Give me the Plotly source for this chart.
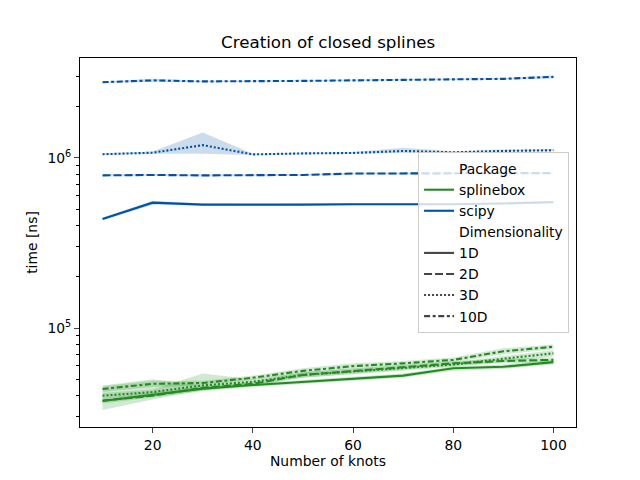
import plotly.graph_objects as go

knots = [10, 20, 30, 40, 50, 60, 70, 80, 90, 100]

# splinebox (mean, lower, upper)
sb_1d = [3.72e4, 4.05e4, 4.4e4, 4.62e4, 4.83e4, 5.06e4, 5.25e4, 5.8e4, 5.92e4, 6.3e4]
sb_1d_lo = [3.6e4, 3.9e4, 4.25e4, 4.5e4, 4.7e4, 4.9e4, 5.1e4, 5.6e4, 5.75e4, 6.1e4]
sb_1d_hi = [3.85e4, 4.2e4, 4.55e4, 4.75e4, 4.97e4, 5.2e4, 5.4e4, 5.95e4, 6.1e4, 6.5e4]
sb_2d = [3.75e4, 4.0e4, 4.45e4, 4.7e4, 5.3e4, 5.6e4, 5.9e4, 6.2e4, 6.4e4, 6.5e4]
sb_2d_lo = [3.3e4, 3.8e4, 4.3e4, 4.55e4, 5.1e4, 5.4e4, 5.7e4, 6.0e4, 6.2e4, 6.3e4]
sb_2d_hi = [4.6e4, 5.0e4, 4.6e4, 4.85e4, 5.5e4, 5.8e4, 6.1e4, 6.4e4, 6.6e4, 6.7e4]
sb_3d = [4.0e4, 4.2e4, 4.6e4, 4.83e4, 5.3e4, 5.55e4, 5.8e4, 6.1e4, 6.6e4, 7.1e4]
sb_3d_lo = [3.85e4, 4.05e4, 4.3e4, 4.65e4, 5.1e4, 5.35e4, 5.6e4, 5.9e4, 6.35e4, 6.8e4]
sb_3d_hi = [4.15e4, 4.35e4, 5.4e4, 5.0e4, 5.5e4, 5.75e4, 6.0e4, 6.3e4, 6.85e4, 7.4e4]
sb_10d = [4.38e4, 4.7e4, 4.75e4, 5.1e4, 5.6e4, 5.97e4, 6.2e4, 6.5e4, 7.3e4, 7.76e4]
sb_10d_lo = [4.2e4, 4.5e4, 4.6e4, 4.95e4, 5.4e4, 5.75e4, 6.0e4, 6.3e4, 7.0e4, 7.5e4]
sb_10d_hi = [4.55e4, 4.9e4, 4.9e4, 5.25e4, 5.8e4, 6.2e4, 6.4e4, 6.7e4, 7.6e4, 8.0e4]

# scipy (mean, lower, upper)
sp_1d = [4.38e5, 5.46e5, 5.32e5, 5.3e5, 5.32e5, 5.35e5, 5.33e5, 5.35e5, 5.4e5, 5.5e5]
sp_1d_lo = [4.3e5, 5.3e5, 5.25e5, 5.24e5, 5.26e5, 5.28e5, 5.27e5, 5.29e5, 5.33e5, 5.43e5]
sp_1d_hi = [4.46e5, 5.6e5, 5.4e5, 5.36e5, 5.38e5, 5.42e5, 5.4e5, 5.42e5, 5.47e5, 5.57e5]
sp_2d = [7.9e5, 7.95e5, 7.9e5, 7.9e5, 7.95e5, 8.1e5, 8.1e5, 8.1e5, 8.1e5, 8.15e5]
sp_2d_lo = [7.8e5, 7.85e5, 7.8e5, 7.8e5, 7.85e5, 8.0e5, 8.0e5, 8.0e5, 8.0e5, 8.05e5]
sp_2d_hi = [8.0e5, 8.05e5, 8.0e5, 8.0e5, 8.05e5, 8.2e5, 8.2e5, 8.2e5, 8.2e5, 8.25e5]
sp_3d = [1.052e6, 1.074e6, 1.19e6, 1.05e6, 1.064e6, 1.07e6, 1.1e6, 1.08e6, 1.1e6, 1.11e6]
sp_3d_lo = [1.04e6, 1.06e6, 1.06e6, 1.04e6, 1.05e6, 1.06e6, 1.07e6, 1.07e6, 1.09e6, 1.1e6]
sp_3d_hi = [1.065e6, 1.09e6, 1.41e6, 1.06e6, 1.078e6, 1.085e6, 1.15e6, 1.095e6, 1.12e6, 1.13e6]
sp_10d = [2.79e6, 2.86e6, 2.82e6, 2.82e6, 2.84e6, 2.86e6, 2.88e6, 2.9e6, 2.92e6, 3.0e6]
sp_10d_lo = [2.76e6, 2.81e6, 2.79e6, 2.79e6, 2.81e6, 2.83e6, 2.85e6, 2.87e6, 2.89e6, 2.93e6]
sp_10d_hi = [2.82e6, 2.92e6, 2.85e6, 2.85e6, 2.87e6, 2.89e6, 2.91e6, 2.93e6, 2.95e6, 3.07e6]

packages = ["splinebox", "scipy"]
dims = ["1D", "2D", "3D", "10D"]
y_major = [1e5, 1e6]
y_major_text = ["10<sup>5</sup>", "10<sup>6</sup>"]
y_minor = [3e4, 4e4, 5e4, 6e4, 7e4, 8e4, 9e4, 2e5, 3e5, 4e5, 5e5, 6e5, 7e5, 8e5, 9e5, 2e6, 3e6]
x_ticks = [20, 40, 60, 80, 100]

colors = {"splinebox": "#228b22", "scipy": "#0052a5"}
fills = {"splinebox": "rgba(34,139,34,0.2)", "scipy": "rgba(0,82,165,0.2)"}
dashes = {"1D": "solid", "2D": "8px,3px", "3D": "2px,2px", "10D": "6px,2.6px,3px,2.6px"}

series = {
    "splinebox": {"1D": (sb_1d, sb_1d_lo, sb_1d_hi), "2D": (sb_2d, sb_2d_lo, sb_2d_hi),
                  "3D": (sb_3d, sb_3d_lo, sb_3d_hi), "10D": (sb_10d, sb_10d_lo, sb_10d_hi)},
    "scipy": {"1D": (sp_1d, sp_1d_lo, sp_1d_hi), "2D": (sp_2d, sp_2d_lo, sp_2d_hi),
              "3D": (sp_3d, sp_3d_lo, sp_3d_hi), "10D": (sp_10d, sp_10d_lo, sp_10d_hi)},
}

fig = go.Figure()
for pkg in packages:
    for d in dims:
        mean, lo, hi = series[pkg][d]
        fig.add_trace(go.Scatter(x=knots + knots[::-1], y=hi + lo[::-1], fill="toself",
                                 fillcolor=fills[pkg], line=dict(width=0), mode="lines",
                                 showlegend=False, hoverinfo="skip"))
for pkg in packages:
    for d in dims:
        mean, lo, hi = series[pkg][d]
        fig.add_trace(go.Scatter(x=knots, y=mean, mode="lines",
                                 line=dict(color=colors[pkg], width=2.1, dash=dashes[d]),
                                 showlegend=False))

# legend entries
def legend_entry(name, color, dash="solid"):
    fig.add_trace(go.Scatter(x=[None], y=[None], mode="lines", name=name,
                             line=dict(color=color, width=2.1, dash=dash)))

legend_entry("Package", "rgba(0,0,0,0)")
for pkg in packages:
    legend_entry(pkg, colors[pkg])
legend_entry("Dimensionality", "rgba(0,0,0,0)")
for d in dims:
    legend_entry(d, "#444444", dashes[d])

font = "DejaVu Sans, sans-serif"
fig.update_layout(
    width=640, height=480,
    margin=dict(l=80, r=64, t=58, b=53),
    paper_bgcolor="white", plot_bgcolor="white",
    font=dict(family=font, size=13.9, color="black"),
    showlegend=True,
    legend=dict(x=0.986, y=0.745, xanchor="right", yanchor="top",
                bgcolor="rgba(255,255,255,0.8)", bordercolor="#cccccc", borderwidth=1,
                font=dict(size=13.9), itemwidth=30, traceorder="normal"),
    annotations=[dict(text="Creation of closed splines", x=0.5, y=1, xref="paper", yref="paper",
                      xanchor="center", yanchor="bottom", yshift=4, showarrow=False,
                      font=dict(size=16.7, family=font))],
)
fig.update_xaxes(range=[5.5, 104.5], tickvals=x_ticks, ticks="outside", ticklen=4.9, tickwidth=1.1,
                 showline=True, linecolor="black", linewidth=1.1, mirror=True, showgrid=False,
                 zeroline=False, title=dict(text="Number of knots", standoff=4, font=dict(size=13.9)))
fig.update_yaxes(type="log", range=[4.418, 6.588], tickvals=y_major, ticktext=y_major_text,
                 ticks="outside", ticklen=4.9, tickwidth=1.1,
                 minor=dict(tickvals=y_minor, ticks="outside", ticklen=2.8, tickwidth=0.8, tickcolor="black", showgrid=False),
                 showline=True, linecolor="black", linewidth=1.1, mirror=True, showgrid=False,
                 zeroline=False, title=dict(text="time [ns]", standoff=6, font=dict(size=13.9)))

fig.write_html("out.html")
